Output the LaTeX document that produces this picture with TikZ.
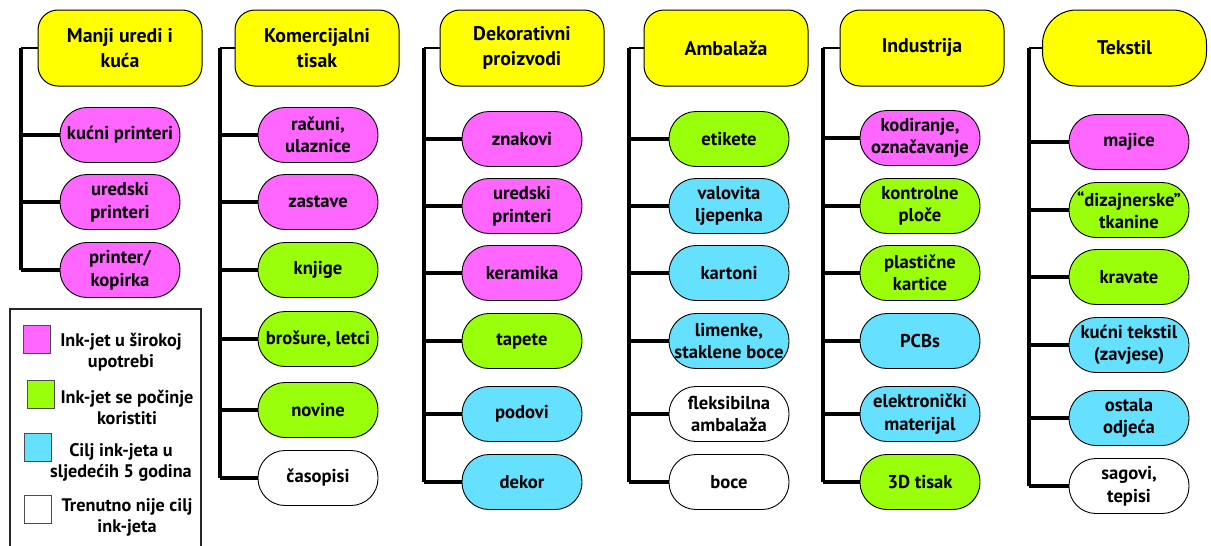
\documentclass[tikz,border=0pt]{standalone}
\usepackage{fontspec}
\setmainfont{PT Sans}
\definecolor{hdr}{HTML}{FFFF00}
\definecolor{pk}{HTML}{FF66FF}
\definecolor{gr}{HTML}{99FF0A}
\definecolor{bl}{HTML}{66E0FF}
\begin{document}
\begin{tikzpicture}[x=1pt,y=-1pt,
  hdrbox/.style={draw=black, line width=1pt, fill=hdr, rounded corners=20pt, minimum width=164pt, minimum height=76pt, inner sep=0pt, align=center, font=\bfseries\fontsize{19.8}{25}\selectfont},
  pill/.style={draw=black, line width=0.9pt, rounded corners=27pt, minimum width=120pt, minimum height=55pt, inner sep=0pt, align=center, font=\bfseries\fontsize{18.6}{22.5}\selectfont},
  pkp/.style={pill, fill=pk},
  grp/.style={pill, fill=gr},
  blp/.style={pill, fill=bl},
  whp/.style={pill, fill=white},
  hlink/.style={line width=2pt},
  trunk/.style={line width=3.6pt},
  branch/.style={line width=3.6pt},
  legsq/.style={draw=black!70, line width=1pt, minimum width=27pt, minimum height=28pt, inner sep=0pt},
  legtxt/.style={align=center, inner sep=0pt, font=\bfseries\fontsize{18.2}{21}\selectfont}
]
\useasboundingbox (0,0) rectangle (1211,546);
\fill[white] (0,0) rectangle (1211,546);

% ---------- Column 1
\node[hdrbox] (h1) at (120,48) {Manji uredi i\\kuća};
\coordinate (t1) at (21,48);
\node[pkp] (a1) at (120,135) {kućni printeri};
\node[pkp] (a2) at (120,202) {uredski\\printeri};
\node[pkp] (a3) at (120,270) {printer/\\kopirka};
\draw[hlink] (h1.west) -- (t1);
\draw[trunk] (t1) -- (t1 |- a3.west);
\foreach \c in {a1,a2,a3} \draw[branch] (t1 |- \c.west) -- (\c.west);

% ---------- Column 2
\node[hdrbox] (h2) at (317,48) {Komercijalni\\tisak};
\coordinate (t2) at (220,48);
\node[pkp] (b1) at (318,135) {računi,\\ulaznice};
\node[pkp] (b2) at (318,202) {zastave};
\node[grp] (b3) at (318,270) {knjige};
\node[grp] (b4) at (318,339) {brošure, letci};
\node[grp] (b5) at (318,410) {novine};
\node[whp] (b6) at (318,478) {časopisi};
\draw[hlink] (h2.west) -- (t2);
\draw[trunk] (t2) -- (t2 |- b6.west);
\foreach \c in {b1,b2,b3,b4,b5,b6} \draw[branch] (t2 |- \c.west) -- (\c.west);

% ---------- Column 3
\node[hdrbox] (h3) at (522,48) {Dekorativni\\proizvodi};
\coordinate (t3) at (424,48);
\node[pkp] (c1) at (522,139) {znakovi};
\node[pkp] (c2) at (522,206) {uredski\\printeri};
\node[pkp] (c3) at (522,273) {keramika};
\node[grp] (c4) at (522,341) {tapete};
\node[blp] (c5) at (522,414) {podovi};
\node[blp] (c6) at (522,482) {dekor};
\draw[hlink] (h3.west) -- (t3);
\draw[trunk] (t3) -- (t3 |- c6.west);
\foreach \c in {c1,c2,c3,c4,c5,c6} \draw[branch] (t3 |- \c.west) -- (\c.west);

% ---------- Column 4
\node[hdrbox] (h4) at (726,48) {Ambalaža};
\coordinate (t4) at (629,48);
\node[grp] (d1) at (729,139) {etikete};
\node[blp] (d2) at (729,206) {valovita\\ljepenka};
\node[blp] (d3) at (729,273) {kartoni};
\node[blp] (d4) at (729,341) {limenke,\\staklene boce};
\node[whp] (d5) at (729,414) {fleksibilna\\ambalaža};
\node[whp] (d6) at (729,482) {boce};
\draw[hlink] (h4.west) -- (t4);
\draw[trunk] (t4) -- (t4 |- d6.west);
\foreach \c in {d1,d2,d3,d4,d5,d6} \draw[branch] (t4 |- \c.west) -- (\c.west);

% ---------- Column 5
\node[hdrbox] (h5) at (922,48) {Industrija};
\coordinate (t5) at (823,48);
\node[pkp] (e1) at (920,138) {kodiranje,\\označavanje};
\node[grp] (e2) at (920,206) {kontrolne\\ploče};
\node[grp] (e3) at (920,273) {plastične\\kartice};
\node[blp] (e4) at (920,341) {PCBs};
\node[blp] (e5) at (920,414) {elektronički\\materijal};
\node[grp] (e6) at (920,482) {3D tisak};
\draw[hlink] (h5.west) -- (t5);
\draw[trunk] (t5) -- (t5 |- e6.west);
\foreach \c in {e1,e2,e3,e4,e5,e6} \draw[branch] (t5 |- \c.west) -- (\c.west);

% ---------- Column 6
\node[hdrbox, rounded corners=34pt] (h6) at (1124.5,48) {Tekstil};
\coordinate (t6) at (1029,48);
\node[pkp] (f1) at (1129,142) {majice};
\node[grp] (f2) at (1129,210) {“dizajnerske”\\tkanine};
\node[grp] (f3) at (1129,277) {kravate};
\node[blp] (f4) at (1129,345) {kućni tekstil\\(zavjese)};
\node[blp] (f5) at (1129,418) {ostala\\odjeća};
\node[whp] (f6) at (1129,486) {sagovi,\\tepisi};
\draw[hlink] (h6.west) -- (t6);
\draw[trunk] (t6) -- (t6 |- f6.west);
\foreach \c in {f1,f2,f3,f4,f5,f6} \draw[branch] (t6 |- \c.west) -- (\c.west);

% ---------- Legend
\draw[black!85, line width=1.5pt] (10,309) rectangle (201,560);
\node[legsq, fill=pk] (l1) at (36.5,339) {};
\node[legtxt] (lt1) at (121,352) {Ink-jet u širokoj\\upotrebi};
\node[legsq, fill=gr] (l2) at (40.5,394.5) {};
\node[legtxt] (lt2) at (127,407) {Ink-jet se počinje\\koristiti};
\node[legsq, fill=bl] (l3) at (37.5,447.5) {};
\node[legtxt] (lt3) at (121,462) {Cilj ink-jeta u\\sljedećih 5 godina};
\node[legsq, fill=white] (l4) at (37.5,509.5) {};
\node[legtxt] (lt4) at (127,517) {Trenutno nije cilj\\ink-jeta};
\end{tikzpicture}
\end{document}
